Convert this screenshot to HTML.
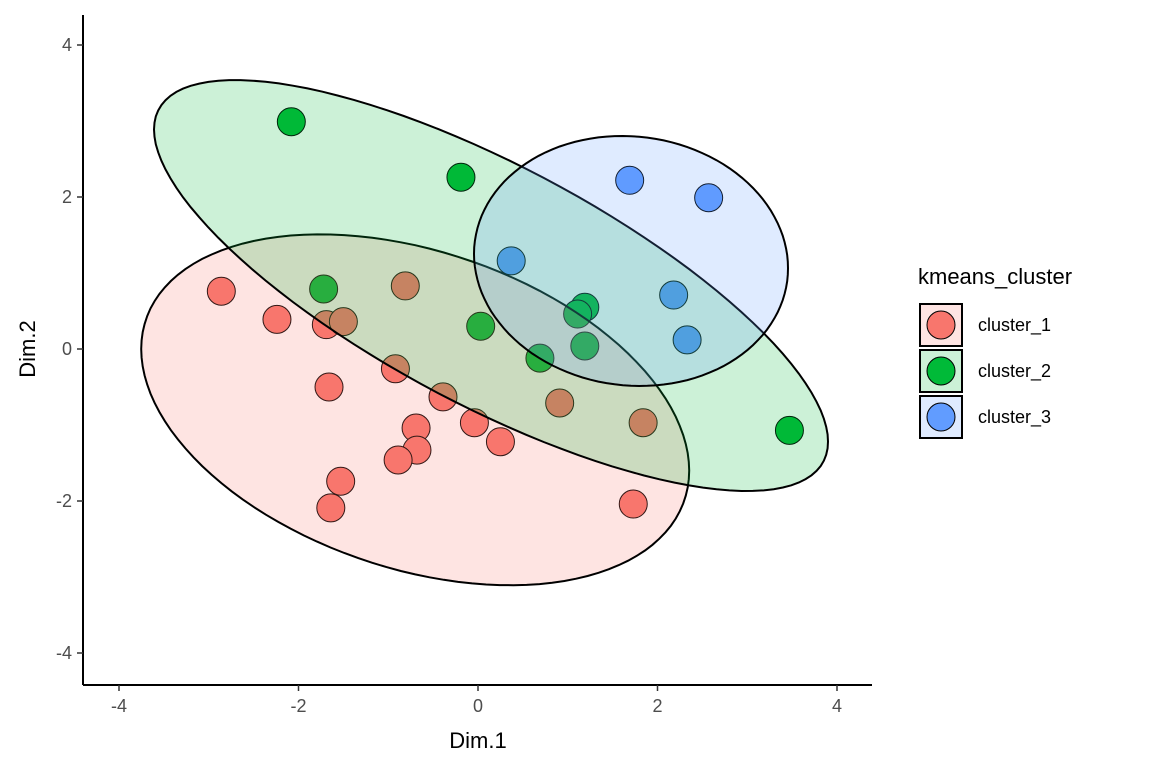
<!DOCTYPE html>
<html><head><meta charset="utf-8"><style>
body{margin:0;background:#fff;}
svg text{font-family:"Liberation Sans",Arial,sans-serif;}
</style></head><body>
<svg id="c" width="1152" height="768" xmlns="http://www.w3.org/2000/svg"></svg>
<script>
const clusterNames=["cluster_1","cluster_2","cluster_3"];
const clusterColors=["#F8766D","#00BA38","#619CFF"];
const xTicks=[-4,-2,0,2,4];
const yTicks=[-4,-2,0,2,4];
const c1x=[-2.86,-2.24,-1.69,-1.66,-0.92,-0.39,-0.69,-0.68,-0.89,-1.53,-1.64,-0.04,0.25,1.73,-0.81,-1.50,0.91,1.84];
const c1y=[0.76,0.39,0.32,-0.50,-0.26,-0.63,-1.04,-1.33,-1.46,-1.74,-2.09,-0.97,-1.22,-2.04,0.83,0.36,-0.71,-0.97];
const c2x=[-2.08,-0.19,-1.72,0.03,0.69,1.19,1.11,1.19,3.47];
const c2y=[2.99,2.26,0.79,0.30,-0.12,0.55,0.46,0.04,-1.07];
const c3x=[1.69,2.57,0.37,2.18,2.33];
const c3y=[2.22,1.99,1.16,0.71,0.12];
const ellCx=[-0.70,0.145,1.705];
const ellCy=[-0.80,0.835,1.158];
const ellSxx=[9.32,14.10,3.06];
const ellSyy=[5.33,7.31,2.705];
const ellSxy=[-2.444,-7.71,-0.165];

const NS="http://www.w3.org/2000/svg";
const svg=document.getElementById("c");
const X=v=>478+v*89.75, Y=v=>349-v*76;
function mk(t,a,p){const e=document.createElementNS(NS,t);for(const k in a)e.setAttribute(k,a[k]);(p||svg).appendChild(e);return e;}

let e=mk("line",{x1:83,y1:15,x2:83,y2:685,stroke:"#000","stroke-width":2});


e=mk("line",{x1:83,y1:685,x2:872,y2:685,stroke:"#000","stroke-width":2});


xTicks.forEach(t=>{
 mk("line",{x1:X(t),y1:685,x2:X(t),y2:691,stroke:"#333","stroke-width":1.5});
 const tx=mk("text",{x:X(t),y:712,"text-anchor":"middle","font-size":18,fill:"#4d4d4d"});tx.textContent=t;
 
 
});
yTicks.forEach(t=>{
 mk("line",{x1:77,y1:Y(t),x2:83,y2:Y(t),stroke:"#333","stroke-width":1.5});
 const tx=mk("text",{x:72,y:Y(t)+6,"text-anchor":"end","font-size":18,fill:"#4d4d4d"});tx.textContent=t;
 
 
});
e=mk("text",{x:478,y:748,"text-anchor":"middle","font-size":22});e.textContent="Dim.1";


e=mk("text",{x:0,y:0,"text-anchor":"middle","font-size":22,transform:"translate(35,349) rotate(-90)"});e.textContent="Dim.2";



[[c1x,c1y],[c2x,c2y],[c3x,c3y]].forEach((s,ci)=>{
 s[0].forEach((v,i)=>{
  const p=mk("circle",{cx:X(v),cy:Y(s[1][i]),r:14,fill:clusterColors[ci],stroke:"#000","stroke-width":1});
  
  
 });
});
ellCx.forEach((cx,i)=>{
 const a=Math.sqrt(ellSxx[i]),b=ellSxy[i]/a,d=Math.sqrt(ellSyy[i]-b*b);
 let pts=[];
 for(let k=0;k<=120;k++){const t=k/120*2*Math.PI;
  pts.push(X(cx+a*Math.cos(t)).toFixed(1)+","+Y(ellCy[i]+b*Math.cos(t)+d*Math.sin(t)).toFixed(1));}
 const p=mk("polygon",{points:pts.join(" "),fill:clusterColors[i],"fill-opacity":0.2,stroke:"#000","stroke-width":2});
 
 
});
e=mk("text",{x:918,y:284,"font-size":22});e.textContent="kmeans_cluster";


clusterNames.forEach((n,i)=>{
 const g=mk("g",{});
 
 
 const y=304+i*46;
 mk("rect",{x:920,y:y,width:42,height:42,fill:clusterColors[i],"fill-opacity":0.2,stroke:"#000","stroke-width":2},g);
 mk("circle",{cx:941,cy:y+21,r:14,fill:clusterColors[i],stroke:"#000","stroke-width":1},g);
 const t=mk("text",{x:978,y:y+27,"font-size":18},g);t.textContent=n;
});
</script>
</body></html>
